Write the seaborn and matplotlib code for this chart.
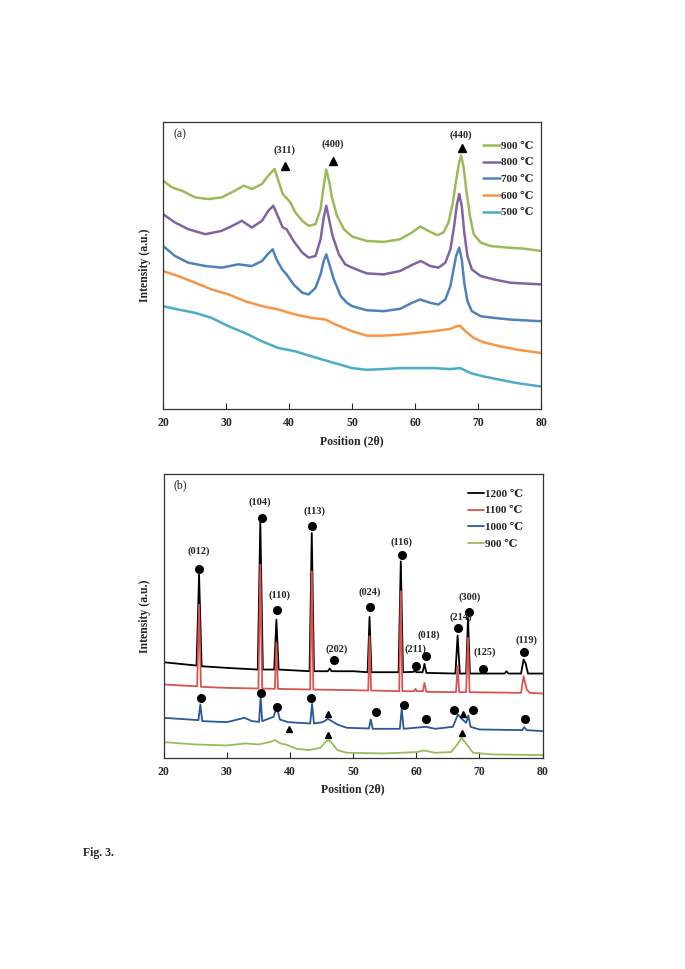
import seaborn as sns
import matplotlib.pyplot as plt
import numpy as np
import pandas as pd

# ---------- Panel (a): XRD patterns 500-900 C (arbitrary units) ----------
a900_x = [20.0, 21.4, 23.0, 25.1, 27.2, 29.3, 31.4, 32.8, 34.1, 35.7, 36.7, 37.7, 38.3, 39.0,
          39.5, 40.2, 41.0, 42.1, 43.1, 44.2, 45.0, 45.5, 45.9, 46.4, 46.8, 47.6, 48.7, 50.0,
          52.3, 55.0, 57.6, 59.5, 60.8, 62.1, 63.5, 64.5, 65.3, 66.0, 66.5, 67.0, 67.3, 67.7,
          68.1, 68.7, 69.3, 70.4, 71.9, 74.6, 77.2, 80]
a900_y = [682, 662, 652, 632, 627, 632, 652, 667, 657, 672, 697, 717, 682, 642,
          632, 617, 587, 562, 547, 552, 597, 667, 715, 677, 632, 577, 537, 515,
          502, 499, 507, 527, 545, 532, 519, 527, 557, 617, 682, 737, 757, 722,
          657, 577, 522, 497, 487, 482, 479, 472]

a800_x = [20.0, 21.9, 24.0, 26.7, 29.3, 31.2, 32.5, 34.1, 35.7, 36.7, 37.5, 38.2, 39.0, 39.6,
          40.7, 42.1, 43.1, 44.2, 45.0, 45.5, 45.9, 46.4, 46.9, 47.9, 48.9, 50.0, 52.3, 55.0,
          57.6, 59.5, 60.9, 62.4, 63.7, 64.8, 65.6, 66.2, 66.6, 67.0, 67.4, 67.8, 68.3, 69.0,
          70.4, 72.5, 75.1, 80]
a800_y = [582, 557, 537, 522, 532, 549, 562, 542, 562, 592, 607, 577, 542, 537,
          502, 467, 452, 457, 507, 572, 607, 562, 517, 462, 432, 422, 405, 402,
          412, 430, 442, 427, 422, 437, 477, 547, 607, 642, 607, 527, 457, 417,
          397, 387, 377, 372]

a700_x = [20.0, 21.9, 24.0, 26.7, 29.3, 31.9, 34.1, 35.7, 36.6, 37.4, 38.0, 38.9, 39.6, 40.7,
          42.1, 43.1, 44.2, 45.0, 45.5, 45.9, 46.4, 47.1, 48.2, 49.2, 50.0, 52.3, 55.0, 57.6,
          59.5, 60.8, 62.4, 63.7, 64.8, 65.6, 66.1, 66.5, 67.0, 67.4, 67.8, 68.3, 69.0, 70.4,
          72.5, 75.1, 80]
a700_y = [487, 457, 437, 427, 422, 432, 427, 442, 462, 477, 447, 417, 402, 372,
          347, 342, 362, 402, 442, 462, 432, 387, 337, 317, 307, 295, 292, 299,
          317, 327, 317, 312, 327, 367, 417, 457, 482, 447, 377, 322, 292, 277,
          272, 267, 262]

a600_x = [20.0, 22.4, 25.1, 27.7, 30.4, 33.0, 35.7, 38.3, 41.0, 43.6, 45.8, 47.4, 50.0, 52.3,
          55.0, 57.6, 60.3, 62.9, 65.6, 66.6, 67.1, 68.0, 69.3, 70.9, 73.5, 76.2, 80]
a600_y = [412, 397, 377, 357, 342, 322, 307, 297, 282, 272, 267, 252, 232, 219,
          219, 222, 227, 232, 239, 247, 249, 232, 212, 199, 187, 177, 167]

a500_x = [20.0, 22.4, 25.1, 27.7, 30.4, 33.0, 35.7, 38.3, 41.0, 43.6, 46.3, 50.0, 52.3, 55.0,
          57.6, 60.3, 62.9, 65.6, 67.2, 68.8, 70.9, 73.5, 76.2, 80]
a500_y = [307, 297, 287, 272, 247, 227, 202, 182, 172, 157, 142, 122, 117, 119,
          122, 122, 122, 119, 122, 107, 97, 87, 77, 67]

a_labels = ["900 ℃", "800 ℃", "700 ℃", "600 ℃", "500 ℃"]
a_colors = ["#9BBB59", "#8064A2", "#4F81BD", "#F79646", "#4BACC6"]

a_hkl = ["(311)", "(400)", "(440)"]
a_hkl_x = [39.3, 47.0, 67.3]
a_hkl_y = [772, 791, 819]
a_tri_x = [39.3, 47.0, 67.4]
a_tri_y = [725, 740, 779]

# ---------- Panel (b): XRD patterns 900-1200 C ----------
b1200_x = [20, 25.2, 25.6, 26.0, 30, 34.9, 35.3, 35.7, 37.5, 37.85, 38.2, 43.1, 43.45, 43.8,
           46.0, 46.3, 46.6, 50, 52.3, 52.6, 52.9, 57.2, 57.55, 57.9, 59.6, 59.8, 60.0, 61.0,
           61.3, 61.6, 66.2, 66.55, 66.9, 67.9, 68.2, 68.5, 74.0, 74.3, 74.6, 76.6, 77.0, 77.3,
           77.7, 80]
b1200_y = [287, 277, 550, 275, 270, 265, 708, 265, 265, 415, 265, 260, 675, 260,
           260, 268, 260, 260, 257, 423, 257, 257, 590, 257, 258, 265, 257, 257,
           282, 255, 253, 367, 253, 253, 420, 253, 253, 260, 253, 253, 295, 285,
           253, 253]

b1100_x = [20, 25, 25.3, 25.6, 25.9, 30, 35.0, 35.3, 35.6, 37.6, 37.85, 38.1, 43.2, 43.45, 43.7,
           50, 52.4, 52.6, 52.85, 57.3, 57.55, 57.8, 59.7, 59.9, 60.1, 61.05, 61.3, 61.6, 66.3,
           66.55, 66.8, 67.9, 68.2, 68.45, 76.6, 77.0, 77.5, 78, 80]
b1100_y = [220, 215, 215, 460, 213, 210, 208, 580, 208, 207, 345, 207, 205, 560, 205,
           203, 202, 365, 202, 200, 500, 200, 200, 207, 200, 200, 225, 198, 197,
           275, 197, 197, 360, 197, 195, 245, 205, 195, 193]

b1000_x = [20, 25.5, 25.8, 26.1, 30, 32.8, 34, 35.1, 35.35, 35.6, 37.4, 37.9, 38.4, 39.7, 43.2,
           43.5, 43.8, 45.2, 46.0, 47.5, 49, 52.5, 52.8, 53.1, 57.4, 57.7, 58.0, 61.5, 63, 65.8,
           66.6, 67.2, 67.9, 68.25, 68.6, 70, 76.8, 77.1, 77.5, 80]
b1000_y = [120, 113, 160, 110, 107, 120, 110, 108, 182, 110, 123, 152, 115, 107, 103,
           162, 103, 107, 117, 100, 90, 88, 115, 87, 87, 147, 87, 93, 87, 93,
           130, 117, 105, 127, 93, 85, 83, 92, 83, 80]

b900_x = [20, 25, 30, 33, 35, 36.8, 37.6, 38.5, 39.5, 41, 43, 44.8, 45.6, 46.1, 46.7, 47.5, 49,
          55, 60, 61.2, 63, 65.5, 66.5, 67.2, 68, 69, 72, 80]
b900_y = [47, 40, 37, 43, 40, 47, 53, 43, 39, 27, 23, 30, 47, 53, 43, 23, 15,
          13, 17, 22, 15, 17, 40, 60, 40, 15, 10, 8]

b_labels = ["1200 ℃", "1100 ℃", "1000 ℃", "900 ℃"]
b_colors = ["#000000", "#D9534F", "#2B5797", "#9BBB59"]

b_hkl = ["(012)", "(104)", "(113)", "(110)", "(202)", "(024)", "(116)", "(211)", "(018)",
         "(214)", "(300)", "(125)", "(119)"]
b_hkl_x = [25.6, 35.2, 43.9, 38.3, 47.4, 52.6, 57.7, 59.9, 62.05, 67.0, 68.4, 70.8, 77.5]
b_hkl_y = [620, 768, 742, 487, 327, 497, 648, 327, 368, 422, 482, 317, 353]
b_dot_x = [25.6, 35.5, 43.5, 37.9, 47.0, 52.75, 57.8, 59.9, 61.5, 66.6, 68.3, 70.6, 77.05,
           25.9, 35.4, 37.9, 43.4, 53.6, 58.1, 61.6, 65.9, 69.0, 77.3]
b_dot_y = [568, 720, 695, 445, 293, 453, 610, 277, 305, 389, 437, 268, 318,
           179, 195, 152, 181, 137, 159, 115, 143, 143, 115]
b_tri_x = [46.1, 67.4, 39.9, 46.0, 67.3]
b_tri_y = [132, 132, 87, 67, 73]

# ---------- style ----------
sns.set_style("ticks")
serif = ["Liberation Serif", "DejaVu Serif", "DejaVu Sans"]
plt.rcParams["font.family"] = serif
plt.rcParams["font.weight"] = "bold"

fig = plt.figure(figsize=(6.85, 9.69), dpi=100)
ax_a = fig.add_axes([0.238, 0.578, 0.552, 0.296])
ax_b = fig.add_axes([0.239, 0.218, 0.553, 0.293])


def draw_curves(ax, xs, ys, labels, colors, lw):
    for x, y, lab, c in zip(xs, ys, labels, colors):
        df = pd.DataFrame({"x": x, "y": y})
        sns.lineplot(data=df, x="x", y="y", ax=ax, color=c, lw=lw, label=lab,
                     estimator=None, sort=False)


def style_axes(ax, ymax, tag):
    ax.set_xlim(20, 80)
    ax.set_ylim(0, ymax)
    ax.set_xticks(np.arange(20, 81, 10))
    ax.set_yticks([])
    ax.tick_params(axis="x", direction="in", length=4, width=0.8, labelsize=8.5, pad=6)
    for lab in ax.get_xticklabels():
        lab.set_fontweight("bold")
    ax.set_xlabel("Position (2θ)", fontsize=8.5, fontweight="bold", labelpad=4)
    ax.set_ylabel("Intensity (a.u.)", fontsize=8.5, fontweight="bold", labelpad=9)
    for s in ax.spines.values():
        s.set_color("#333333")
        s.set_linewidth(0.9)
    ax.text(0.027, 0.958, tag, transform=ax.transAxes, fontsize=8.5, fontweight="normal",
            va="center", ha="left")


# Panel (a)
draw_curves(ax_a, [a900_x, a800_x, a700_x, a600_x, a500_x],
            [a900_y, a800_y, a700_y, a600_y, a500_y], a_labels, a_colors, 1.8)
style_axes(ax_a, 857, "(a)")
for t, x, y in zip(a_hkl, a_hkl_x, a_hkl_y):
    ax_a.text(x, y, t, fontsize=7.5, fontweight="bold", ha="center", va="center")
ax_a.plot(a_tri_x, a_tri_y, ls="none", marker="^", ms=5.5, color="black")
ax_a.legend(loc="upper right", bbox_to_anchor=(1.004, 0.965), frameon=False,
            handlelength=1.5, handletextpad=0.1, labelspacing=0.62, borderaxespad=0.4,
            prop={"weight": "bold", "size": 8, "family": serif})

# Panel (b)
draw_curves(ax_b, [b1200_x, b1100_x, b1000_x, b900_x],
            [b1200_y, b1100_y, b1000_y, b900_y], b_labels, b_colors, 1.3)
style_axes(ax_b, 853, "(b)")
for t, x, y in zip(b_hkl, b_hkl_x, b_hkl_y):
    ax_b.text(x, y, t, fontsize=7.5, fontweight="bold", ha="center", va="center")
ax_b.plot(b_dot_x, b_dot_y, ls="none", marker="o", ms=5.5, color="black")
ax_b.plot(b_tri_x, b_tri_y, ls="none", marker="^", ms=5, color="black")
ax_b.legend(loc="upper right", bbox_to_anchor=(0.972, 0.978), frameon=False,
            handlelength=1.4, handletextpad=0.1, labelspacing=0.62, borderaxespad=0.4,
            prop={"weight": "bold", "size": 8, "family": serif})

fig.text(83 / 685, 1 - 853 / 969, "Fig. 3.", fontsize=8.5, fontweight="bold",
         ha="left", va="center")

fig.savefig("out.png", dpi=100)
